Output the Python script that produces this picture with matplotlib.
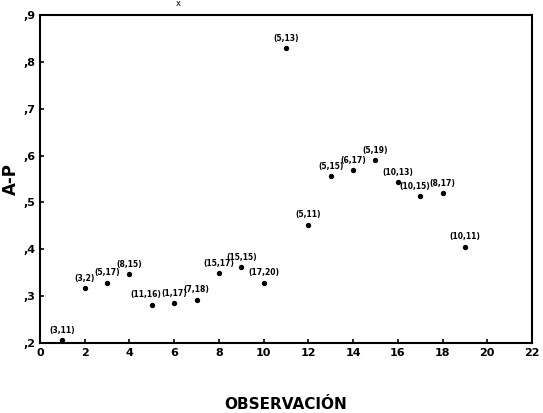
import numpy as np
import matplotlib.pyplot as plt
from matplotlib.ticker import FuncFormatter

# observation number vs A-P value, with the (a,b) label over each point
obs = [1, 2, 3, 4, 5, 6, 7, 8, 9, 10, 11, 12, 13, 14, 15, 16, 17, 18, 19]
ap = [0.206, 0.317, 0.328, 0.347, 0.281, 0.285, 0.292, 0.349, 0.362, 0.328,
      0.829, 0.452, 0.556, 0.569, 0.590, 0.543, 0.513, 0.520, 0.405]
labels = ["(3,11)", "(3,2)", "(5,17)", "(8,15)", "(11,16)", "(1,17)", "(7,18)",
          "(15,17)", "(15,15)", "(17,20)", "(5,13)", "(5,11)", "(5,15)",
          "(6,17)", "(5,19)", "(10,13)", "(10,15)", "(8,17)", "(10,11)"]

fig = plt.figure(figsize=(5.43, 4.13), dpi=100)
ax = fig.add_axes([40/543, 1 - 343/413, 492/543, 328/413])

ax.scatter(obs, ap, s=8, c='black', marker='o', zorder=3)
# crowded labels get nudged left a little
nudge = {5: -4, 17: -4}
for x, y, lab in zip(obs, ap, labels):
    ax.annotate(lab, (x, y), xytext=(nudge.get(x, 0), 4), textcoords='offset points',
                ha='center', va='bottom', fontsize=5.5, fontweight='bold')

ax.set_xlim(0, 22)
ax.set_ylim(0.2, 0.9)
ax.set_xticks(np.arange(0, 23, 2))
ax.set_yticks(np.arange(0.2, 0.91, 0.1))
ax.yaxis.set_major_formatter(FuncFormatter(lambda v, p: ',%d' % round(v * 10)))
ax.tick_params(direction='in', length=3, width=1.2, labelsize=8)
for lab in ax.get_xticklabels() + ax.get_yticklabels():
    lab.set_fontweight('bold')
for sp in ax.spines.values():
    sp.set_linewidth(1.5)

ax.set_ylabel('A-P', fontsize=12, fontweight='bold', labelpad=2)
ax.set_xlabel('OBSERVACIÓN', fontsize=11, fontweight='bold', labelpad=28)
fig.text(178/543, 1 - 4/413, 'x', fontsize=6, ha='center', va='center')

fig.savefig('out.png', dpi=100)
